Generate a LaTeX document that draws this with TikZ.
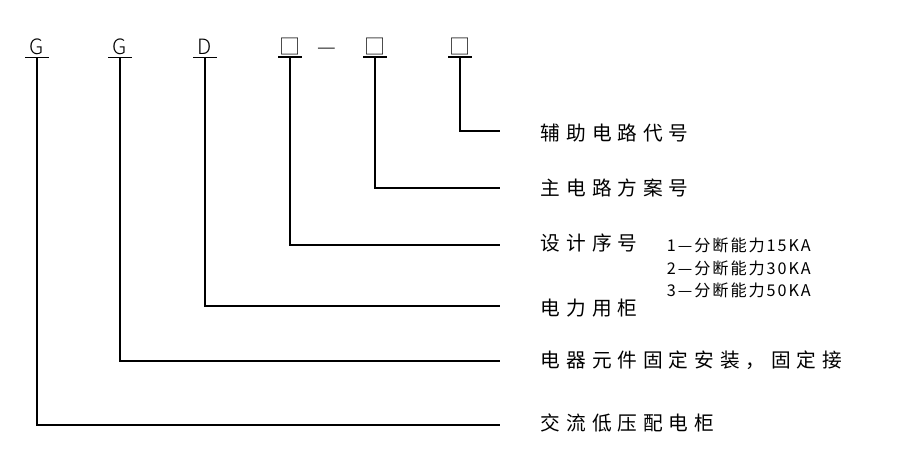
\documentclass[tikz,border=0pt]{standalone}
\usepackage{fontspec}
\newfontfamily\cjk[LetterSpace=30]{Noto Sans CJK SC}
\newfontfamily\cjksmall[LetterSpace=12]{Noto Sans CJK SC}
\newfontfamily\cjkcode{Noto Sans CJK SC Light}
\usetikzlibrary{calc}
\tikzset{
    code/.style={font=\cjkcode\fontsize{15}{15}\selectfont, anchor=base},
    label/.style={font=\cjk\fontsize{14}{14}\selectfont, anchor=west},
    note/.style={font=\cjksmall\fontsize{11.5}{16}\selectfont, anchor=west},
    lead/.style={line width=0.8pt}
}
\begin{document}
\begin{tikzpicture}[x=0.025cm, y=-0.025cm]
        \useasboundingbox (0, 0) rectangle (904, 458);

        % code letters
        \node[code] (c1) at (37, 55) {G};
        \node[code] (c2) at (120, 55) {G};
        \node[code] (c3) at (205, 55) {D};
        \node[code] (c4) at (290, 55) {□};
        \node[code] (dash) at (327, 55) {—};
        \node[code] (c5) at (375, 55) {□};
        \node[code] (c6) at (460, 55) {□};

        % meanings
        \node[label] (t6) at (536, 133) {辅助电路代号};
        \node[label] (t5) at (536, 188) {主电路方案号};
        \node[label] (t4) at (536, 243) {设计序号};
        \node[label] (t3) at (536, 308) {电力用柜};
        \node[label] (t2) at (536, 360) {电器元件固定安装，固定接};
        \node[label] (t1) at (536, 423) {交流低压配电柜};

        \node[note, align=left] (n4) at (662, 268) {1—分断能力15KA\\2—分断能力30KA\\3—分断能力50KA};

        % leader lines
        \foreach \c/\t/\y in {c1/t1/425, c2/t2/361, c3/t3/306, c4/t4/245, c5/t5/188, c6/t6/131} {
            \draw[lead] ($(\c.center) + (-12, 10)$) -- ($(\c.center) + (12, 10)$);
            \draw[lead] ($(\c.center) + (0, 10)$) |- (500, \y);
        }
\end{tikzpicture}
\end{document}
